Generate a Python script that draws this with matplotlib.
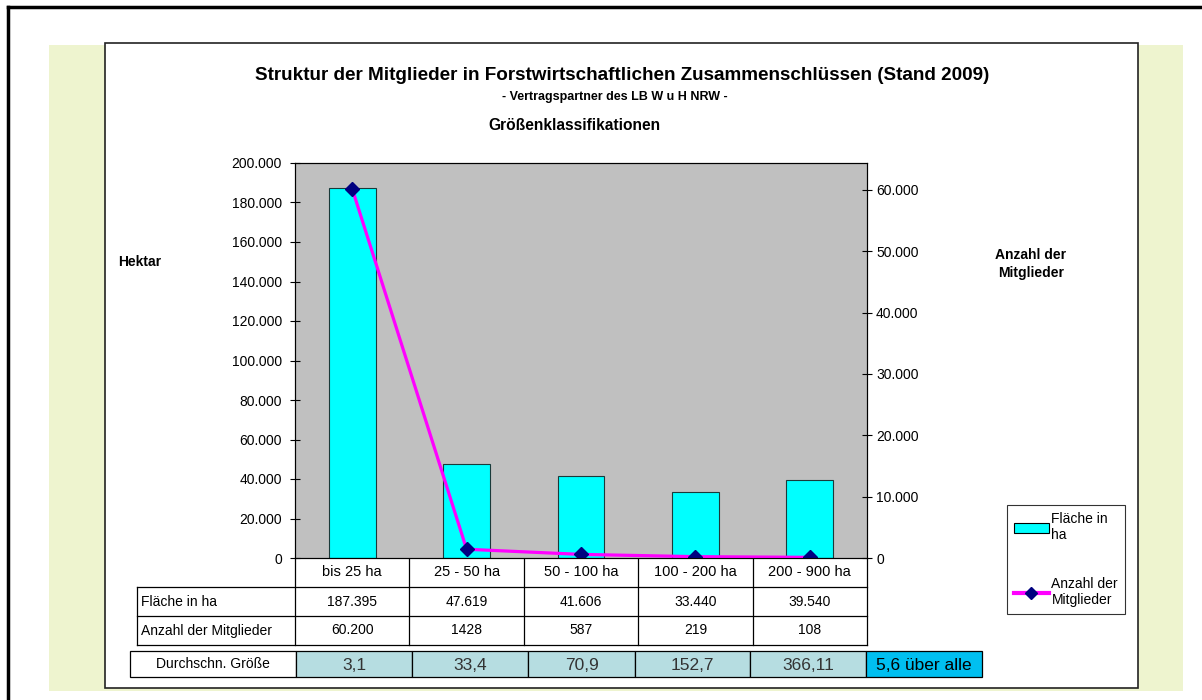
import matplotlib.pyplot as plt
from matplotlib.patches import Rectangle
from matplotlib.lines import Line2D
from matplotlib.ticker import FuncFormatter

plt.rcParams['font.family'] = ['Liberation Sans', 'DejaVu Sans']

# data
categories = ['bis 25 ha', '25 - 50 ha', '50 - 100 ha', '100 - 200 ha', '200 - 900 ha']
flaeche = [187395, 47619, 41606, 33440, 39540]
mitglieder = [60200, 1428, 587, 219, 108]
flaeche_txt = ['187.395', '47.619', '41.606', '33.440', '39.540']
mitglieder_txt = ['60.200', '1428', '587', '219', '108']
durchschnitt_txt = ['3,1', '33,4', '70,9', '152,7', '366,11']
gesamt_txt = '5,6 über alle'

W, H = 1202, 700
fig = plt.figure(figsize=(W / 100, H / 100), dpi=100)

# background drawing layer in pixel coordinates
bg = fig.add_axes([0, 0, 1, 1])
bg.set_xlim(0, W)
bg.set_ylim(H, 0)
bg.axis('off')

yellow = '#eef4cf'
bg.add_patch(Rectangle((49, 45), 1134, 646, facecolor=yellow, edgecolor='none'))
bg.add_patch(Rectangle((105, 43), 1033, 645, facecolor='white', edgecolor='#222222', lw=1.2))
bg.plot([8, W], [7, 7], color='black', lw=2.5)
bg.plot([8, 8], [7, H], color='black', lw=2.5)

bg.text(622, 75, 'Struktur der Mitglieder in Forstwirtschaftlichen Zusammenschlüssen (Stand 2009)',
        ha='center', va='center', fontsize=13.6, fontweight='bold')
bg.text(615, 97, '- Vertragspartner des LB W u H NRW -', ha='center', va='center',
        fontsize=9, fontweight='bold')
bg.text(574, 125, 'Größenklassifikationen', ha='center', va='center', fontsize=11.2, fontweight='bold')
bg.text(140, 262, 'Hektar', ha='center', va='center', fontsize=10, fontweight='bold')
bg.text(1031, 264, 'Anzahl der\nMitglieder', ha='center', va='center', fontsize=10,
        fontweight='bold', linespacing=1.3)

# plot area
x0, x1, ytop, ybot = 295, 867, 163, 558
ax = fig.add_axes([x0 / W, 1 - ybot / H, (x1 - x0) / W, (ybot - ytop) / H])
ax.set_facecolor('#c0c0c0')
xs = range(len(categories))
ax.bar(xs, flaeche, width=0.41, color='#00ffff', edgecolor='#1a3a3a', linewidth=0.8)
ax.set_xlim(-0.5, len(categories) - 0.5)
ax.set_ylim(0, 200000)
ax.set_yticks(range(0, 200001, 20000))
fmt = FuncFormatter(lambda v, p: f'{int(v):,}'.replace(',', '.'))
ax.yaxis.set_major_formatter(fmt)
ax.set_xticks([])
ax.tick_params(axis='y', labelsize=10, length=7, width=0.8, direction='inout', pad=6)
for s in ax.spines.values():
    s.set_linewidth(0.8)

ax2 = ax.twinx()
ax2.plot(xs, mitglieder, color='#ff00ff', lw=2.3, marker='D', ms=7,
         markerfacecolor='#000080', markeredgecolor='#000080')
ax2.set_ylim(0, 64400)
ax2.set_yticks(range(0, 60001, 10000))
ax2.yaxis.set_major_formatter(fmt)
ax2.tick_params(axis='y', labelsize=10, length=7, width=0.8, direction='inout', pad=3)
for s in ax2.spines.values():
    s.set_linewidth(0.8)

# legend
handles = [Rectangle((0, 0), 1, 1, facecolor='#00ffff', edgecolor='black', lw=0.8),
           Line2D([], [], color='#ff00ff', lw=3, marker='D', ms=6,
                  markerfacecolor='#000080', markeredgecolor='#000080')]
leg = fig.legend(handles, ['Fläche in\nha', 'Anzahl der\nMitglieder'], loc='upper left',
                 bbox_to_anchor=(1007 / W, 1 - 505 / H), fontsize=10, frameon=True,
                 fancybox=False, borderpad=0.5, handlelength=2.5, handletextpad=0.2,
                 labelspacing=2.5, borderaxespad=0)
leg.get_frame().set_edgecolor('black')
leg.get_frame().set_linewidth(0.8)

# data table
col = [x0 + i * (x1 - x0) / 5 for i in range(6)]
rows = [558, 587, 616, 645]
lw = 0.9
for c in col:
    bg.plot([c, c], [rows[0], rows[3]], color='black', lw=lw)
bg.plot([137, 137], [rows[1], rows[3]], color='black', lw=lw)
for r in rows[1:]:
    bg.plot([137, x1], [r, r], color='black', lw=lw)
for i, name in enumerate(categories):
    cx = (col[i] + col[i + 1]) / 2
    bg.text(cx, (rows[0] + rows[1]) / 2, name, ha='center', va='center', fontsize=10.5)
    bg.text(cx, (rows[1] + rows[2]) / 2, flaeche_txt[i], ha='center', va='center', fontsize=10)
    bg.text(cx, (rows[2] + rows[3]) / 2, mitglieder_txt[i], ha='center', va='center', fontsize=10)
bg.text(141, (rows[1] + rows[2]) / 2, 'Fläche in ha', ha='left', va='center', fontsize=10)
bg.text(141, (rows[2] + rows[3]) / 2, 'Anzahl der Mitglieder', ha='left', va='center', fontsize=10)

# average size row
dcol = [130, 296, 412, 528, 635, 750, 866, 982]
dy0, dy1 = 651, 677
bg.add_patch(Rectangle((dcol[0], dy0), dcol[1] - dcol[0], dy1 - dy0, facecolor='white',
                       edgecolor='black', lw=lw))
bg.text((dcol[0] + dcol[1]) / 2, (dy0 + dy1) / 2, 'Durchschn. Größe', ha='center', va='center',
        fontsize=10)
for i, t in enumerate(durchschnitt_txt):
    bg.add_patch(Rectangle((dcol[i + 1], dy0), dcol[i + 2] - dcol[i + 1], dy1 - dy0,
                           facecolor='#b6dde1', edgecolor='black', lw=lw))
    bg.text((dcol[i + 1] + dcol[i + 2]) / 2, (dy0 + dy1) / 2 + 1, t, ha='center', va='center',
            fontsize=12.5, color='#333333')
bg.add_patch(Rectangle((dcol[6], dy0), dcol[7] - dcol[6], dy1 - dy0, facecolor='#00bff0',
                       edgecolor='black', lw=lw))
bg.text((dcol[6] + dcol[7]) / 2, (dy0 + dy1) / 2 + 1, gesamt_txt, ha='center', va='center',
        fontsize=12.5)

fig.savefig('out.png', dpi=100)
